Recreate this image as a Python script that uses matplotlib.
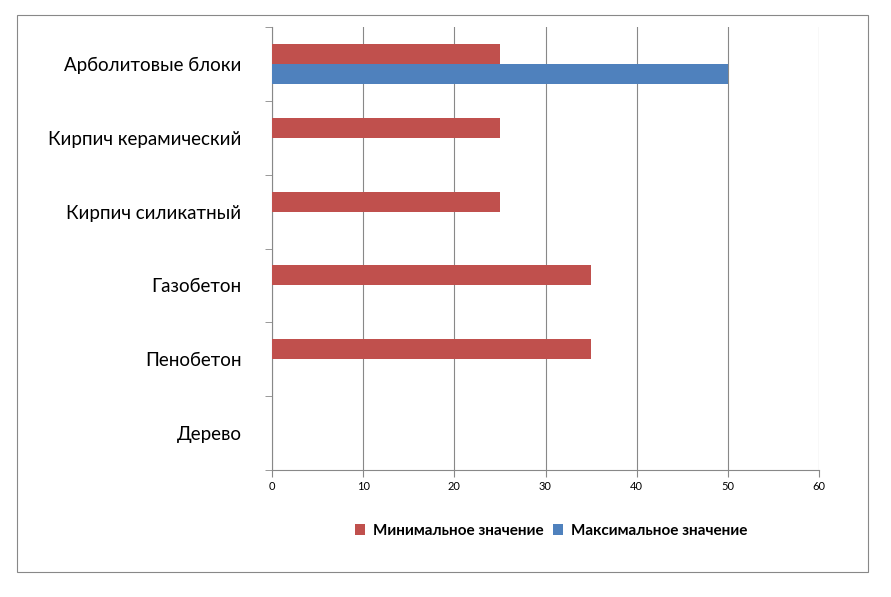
import matplotlib
matplotlib.use("Agg")
import matplotlib.pyplot as plt
from matplotlib.patches import Rectangle
import numpy as np

categories = ["Арболитовые блоки", "Кирпич керамический", "Кирпич силикатный",
              "Газобетон", "Пенобетон", "Дерево"]
min_vals = [25, 25, 25, 35, 35, 0]
max_vals = [50, 0, 0, 0, 0, 0]
xticks = [0, 10, 20, 30, 40, 50, 60]

plt.rcParams['font.family'] = ['Lato', 'DejaVu Sans']
fig = plt.figure(figsize=(8.91, 5.97), dpi=100)
fig.patches.append(Rectangle((17/891, 1-572/597), 851/891, 557/597, transform=fig.transFigure,
                             fill=False, edgecolor='#888888', linewidth=0.8))
ax = fig.add_axes([272/891, 1-470/597, 547/891, 443/597])
y = np.arange(len(categories))
h = 0.27
ax.barh(y - h/2, min_vals, height=h, color='#C0504D', label='Минимальное значение', zorder=3)
ax.barh(y + h/2, max_vals, height=h, color='#4F81BD', label='Максимальное значение', zorder=3)
ax.set_ylim(len(categories) - 0.5, -0.5)
ax.set_xlim(0, 60)
ax.set_xticks(xticks)
ax.set_xticklabels([str(t) for t in xticks], fontsize=8)
ax.set_yticks(y)
ax.set_yticklabels(categories, fontsize=13.5)
ax.tick_params(axis='y', length=0, pad=22)
ax.set_yticks(np.arange(-0.5, len(categories)), minor=True)
ax.tick_params(axis='y', which='minor', length=5, color='#888888')
ax.tick_params(axis='x', length=5, color='#888888', pad=3)
ax.grid(axis='x', color='#888888', linewidth=0.8, zorder=0)
for s in ['top', 'right']:
    ax.spines[s].set_visible(False)
for s in ['left', 'bottom']:
    ax.spines[s].set_color('#888888')
fig.legend(loc='center', bbox_to_anchor=(551/891, 1-531/597), ncol=2, frameon=False,
           prop={'weight': 'bold', 'size': 11}, handlelength=0.7, handleheight=0.7,
           columnspacing=0.6, handletextpad=0.5)
fig.savefig('out.png', dpi=100)
